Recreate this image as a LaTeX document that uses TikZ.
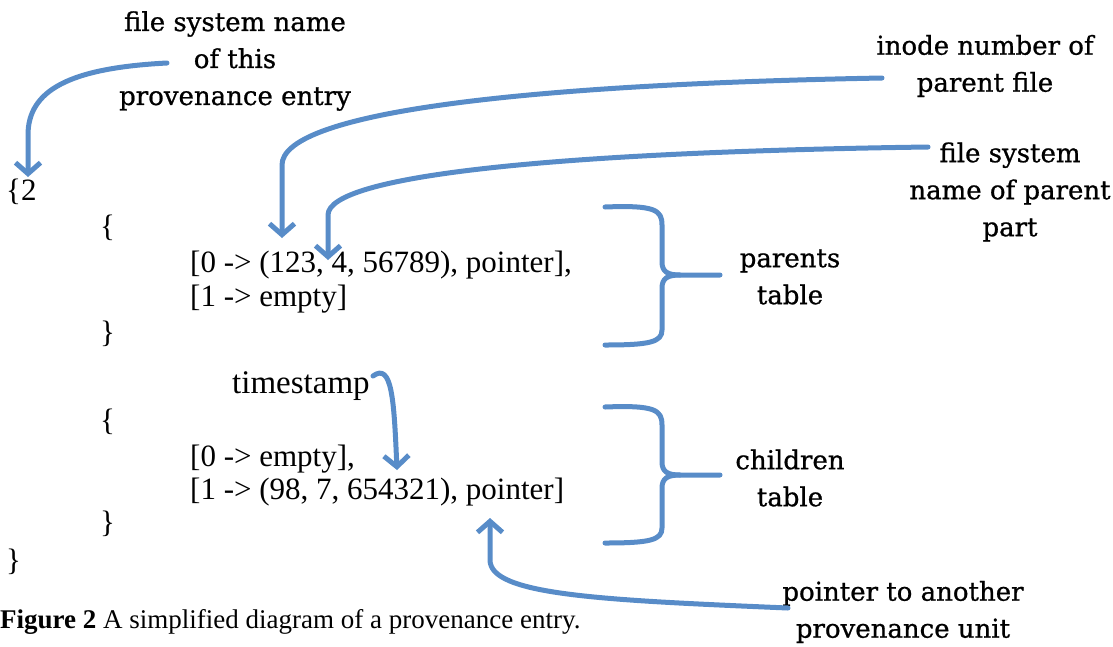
\documentclass[tikz,border=0pt]{standalone}
\usepackage{fontspec}
\setmainfont{Liberation Serif}
\newfontfamily\annfont[FakeBold=0.8]{DejaVu Serif}
\usetikzlibrary{arrows.meta}
\definecolor{arrowblue}{RGB}{88,140,200}
\tikzset{
  code/.style={anchor=base west, inner sep=0pt, font=\fontsize{31}{36}\selectfont},
  ann/.style={align=center, inner sep=0pt, font=\annfont\fontsize{26}{37}\selectfont},
  conn/.style={draw=arrowblue, line width=5pt, line cap=round, line join=round,
    -{Straight Barb[length=11pt,width=25pt]}},
  bracepath/.style={draw=arrowblue, line width=5pt, line cap=round, line join=round}
}
\begin{document}
\begin{tikzpicture}[x=1pt,y=-1pt]
\useasboundingbox (0,0) rectangle (1113,646);
% code text
\node[code] (top) at (6,200) {\{2};
\node[code] (po) at (100,236) {\{};
\node[code] (p0) at (190,272) {[0 -> (123, 4, 56789), pointer],};
\node[code] (p1) at (190,306) {[1 -> empty]};
\node[code] (pc) at (100,342) {\}};
\node[code, font=\fontsize{33}{36}\selectfont] (ts) at (232,393) {timestamp};
\node[code] (co) at (100,430) {\{};
\node[code] (c0) at (190,466) {[0 -> empty],};
\node[code] (c1) at (190,499) {[1 -> (98, 7, 654321), pointer]};
\node[code] (cc) at (100,532) {\}};
\node[code] (bot) at (6,570) {\}};
\node[anchor=base west, inner sep=0pt, font=\fontsize{27}{32}\selectfont] (cap) at (0,628) {\textbf{Figure 2} A simplified diagram of a provenance entry.};
% annotations
\node[ann] (fsn) at (235,61) {file system name\\of this\\provenance entry};
\node[ann] (inode) at (985,66) {inode number of\\parent file};
\node[ann] (fsp) at (1010,192) {file system\\name of parent\\part};
\node[ann] (par) at (790,277) {parents\\table};
\node[ann] (chi) at (790,478) {children\\table};
\node[ann] (ptr) at (903,612) {pointer to another\\provenance unit};
% connector ends
\coordinate (s1) at (167,63);   \coordinate (t1) at (28,177);
\coordinate (s2) at (882,78);   \coordinate (t2) at (282,238);
\coordinate (s3) at (928,147);  \coordinate (t3) at (328,260);
\coordinate (s4) at (373,376);  \coordinate (t4) at (397,470);
\coordinate (s5) at (788,608);  \coordinate (t5) at (490,518);
% arrows
\draw[conn] (s1) .. controls (70,68) and (28,90) .. (28,135) -- (t1);
\draw[conn] (s2) .. controls (500,85) and (282,115) .. (282,165) -- (t2);
\draw[conn] (s3) .. controls (560,152) and (328,175) .. (328,215) -- (t3);
\draw[conn] (s4) .. controls (392,362) and (394,400) .. (t4);
\draw[conn] (s5) .. controls (600,600) and (490,595) .. (490,560) -- (t5);
% braces
\draw[bracepath] (605,207) .. controls (655,205) and (662,210) .. (662,225) -- (662,262)
  .. controls (662,272) and (668,275) .. (680,275) -- (720,275);
\draw[bracepath] (680,275) .. controls (668,275) and (662,278) .. (662,288) -- (662,330)
  .. controls (662,342) and (650,345) .. (605,345);
\draw[bracepath] (605,407) .. controls (655,405) and (662,410) .. (662,425) -- (662,462)
  .. controls (662,472) and (668,475) .. (680,475) -- (720,475);
\draw[bracepath] (680,475) .. controls (668,475) and (662,478) .. (662,488) -- (662,528)
  .. controls (662,540) and (650,543) .. (605,543);
\end{tikzpicture}
\end{document}
